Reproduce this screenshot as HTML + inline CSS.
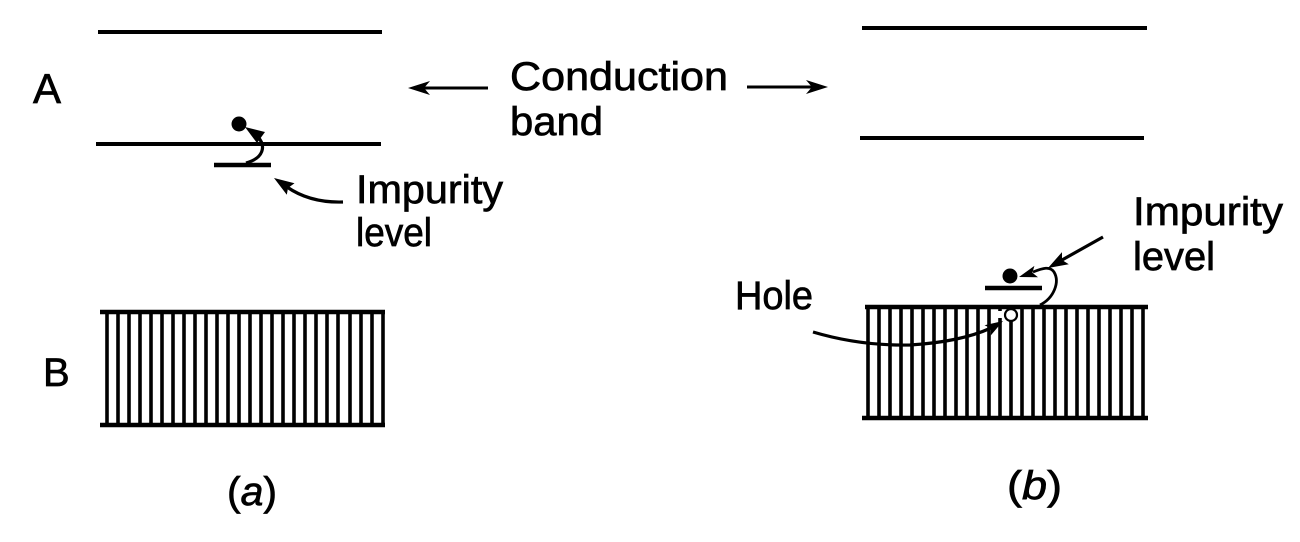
<!DOCTYPE html>
<html><head><meta charset="utf-8"><style>
html,body{margin:0;padding:0;background:#fff;}
svg{display:block;}
text{font-family:"Liberation Sans",Arial,sans-serif;fill:#000;stroke:#000;stroke-width:0.7;}
</style></head><body>
<svg width="1300" height="542" viewBox="0 0 1300 542" xmlns="http://www.w3.org/2000/svg">
<rect width="1300" height="542" fill="#fff"/>
<g stroke="#000" stroke-linecap="butt" fill="none">
<line x1="98" y1="32" x2="382" y2="32" stroke-width="4"/>
<line x1="96" y1="144" x2="381" y2="144" stroke-width="4"/>
<line x1="862" y1="28" x2="1147" y2="28" stroke-width="4"/>
<line x1="860" y1="138" x2="1144" y2="138" stroke-width="4"/>
<line x1="214" y1="165" x2="271" y2="165" stroke-width="4.5"/>
<line x1="985" y1="288" x2="1042" y2="288" stroke-width="4.5"/>
<line x1="100" y1="312" x2="385" y2="312" stroke-width="4.5"/>
<line x1="100" y1="425" x2="385" y2="425" stroke-width="4.5"/>
<line x1="865" y1="307" x2="1148" y2="307" stroke-width="4.5"/>
<line x1="862" y1="418" x2="1148" y2="418" stroke-width="4.5"/>
</g>
<g stroke="#000" stroke-width="3.6">
<line x1="107" y1="312" x2="107" y2="425"/><line x1="118" y1="312" x2="118" y2="425"/><line x1="129" y1="312" x2="129" y2="425"/><line x1="140" y1="312" x2="140" y2="425"/><line x1="151" y1="312" x2="151" y2="425"/><line x1="162" y1="312" x2="162" y2="425"/><line x1="173" y1="312" x2="173" y2="425"/><line x1="184" y1="312" x2="184" y2="425"/><line x1="195" y1="312" x2="195" y2="425"/><line x1="206" y1="312" x2="206" y2="425"/><line x1="217" y1="312" x2="217" y2="425"/><line x1="228" y1="312" x2="228" y2="425"/><line x1="239" y1="312" x2="239" y2="425"/><line x1="250" y1="312" x2="250" y2="425"/><line x1="261" y1="312" x2="261" y2="425"/><line x1="272" y1="312" x2="272" y2="425"/><line x1="283" y1="312" x2="283" y2="425"/><line x1="294" y1="312" x2="294" y2="425"/><line x1="305" y1="312" x2="305" y2="425"/><line x1="316" y1="312" x2="316" y2="425"/><line x1="327" y1="312" x2="327" y2="425"/><line x1="338" y1="312" x2="338" y2="425"/><line x1="350" y1="312" x2="350" y2="425"/><line x1="361" y1="312" x2="361" y2="425"/><line x1="372" y1="312" x2="372" y2="425"/><line x1="383" y1="312" x2="383" y2="425"/>
<line x1="868" y1="307" x2="868" y2="418"/><line x1="879" y1="307" x2="879" y2="418"/><line x1="890" y1="307" x2="890" y2="418"/><line x1="901" y1="307" x2="901" y2="418"/><line x1="912" y1="307" x2="912" y2="418"/><line x1="923" y1="307" x2="923" y2="418"/><line x1="934" y1="307" x2="934" y2="418"/><line x1="945" y1="307" x2="945" y2="418"/><line x1="956" y1="307" x2="956" y2="418"/><line x1="967" y1="307" x2="967" y2="418"/><line x1="978" y1="307" x2="978" y2="418"/><line x1="989" y1="307" x2="989" y2="418"/><line x1="1000" y1="307" x2="1000" y2="418"/><line x1="1011" y1="307" x2="1011" y2="418"/><line x1="1022" y1="307" x2="1022" y2="418"/><line x1="1033" y1="307" x2="1033" y2="418"/><line x1="1044" y1="307" x2="1044" y2="418"/><line x1="1055" y1="307" x2="1055" y2="418"/><line x1="1066" y1="307" x2="1066" y2="418"/><line x1="1077" y1="307" x2="1077" y2="418"/><line x1="1088" y1="307" x2="1088" y2="418"/><line x1="1099" y1="307" x2="1099" y2="418"/><line x1="1110" y1="307" x2="1110" y2="418"/><line x1="1121" y1="307" x2="1121" y2="418"/><line x1="1132" y1="307" x2="1132" y2="418"/><line x1="1143" y1="307" x2="1143" y2="418"/>
</g>
<rect x="996" y="311" width="6" height="7" fill="#fff"/>
<circle cx="1011" cy="315" r="6" fill="#fff" stroke="#000" stroke-width="2.2"/>

<line x1="488" y1="88" x2="424" y2="88" stroke="#000" stroke-width="3"/>
<polygon points="408,88 430,81 424,88 430,95" fill="#000"/>
<line x1="747" y1="87" x2="812" y2="87" stroke="#000" stroke-width="3"/>
<polygon points="828,87 806,80 812,87 806,94" fill="#000"/>

<circle cx="239" cy="124" r="7.5" fill="#000"/>
<path d="M258 137 C266 146 264 158 246 163" stroke="#000" stroke-width="3.2" fill="none"/>
<polygon points="245,127 265,132 257,143" fill="#000"/>
<path d="M343 202 Q310 203 287 187" stroke="#000" stroke-width="3.2" fill="none"/>
<polygon points="274,178 294.5,183.2 288,188 286.8,194.8" fill="#000"/>

<circle cx="1010" cy="276" r="7.5" fill="#000"/>
<path d="M1040 305 C1054 298 1060 282 1054 272 C1050 266 1043 268 1033 272" stroke="#000" stroke-width="2.8" fill="none"/>
<polygon points="1019,277 1038,277.3 1032.4,272.8 1034.4,265.9" fill="#000"/>
<line x1="1103" y1="237" x2="1062" y2="260" stroke="#000" stroke-width="3.2"/>
<polygon points="1048,268 1068.8,264.3 1062,260 1062,252.1" fill="#000"/>
<path d="M813 332 Q860 346 910 345 Q960 342 991 328" stroke="#000" stroke-width="3.2" fill="none"/>
<polygon points="1003,321 990.7,335.5 991,328.3 984.5,325.3" fill="#000"/>

<text x="33" y="103" font-size="42">A</text>
<text x="43" y="386" font-size="40">B</text>
<text x="510" y="90" font-size="40" textLength="218" lengthAdjust="spacingAndGlyphs">Conduction</text>
<text x="510" y="135" font-size="40" textLength="93" lengthAdjust="spacingAndGlyphs">band</text>
<text x="356" y="203" font-size="40" textLength="147" lengthAdjust="spacingAndGlyphs">Impurity</text>
<text x="356" y="246" font-size="40" textLength="76" lengthAdjust="spacingAndGlyphs">level</text>
<text x="1133" y="225" font-size="40" textLength="150" lengthAdjust="spacingAndGlyphs">Impurity</text>
<text x="1133" y="270" font-size="40" textLength="82" lengthAdjust="spacingAndGlyphs">level</text>
<text x="735" y="309" font-size="40" textLength="78" lengthAdjust="spacingAndGlyphs">Hole</text>
<text x="227" y="505" font-size="40" textLength="50" lengthAdjust="spacingAndGlyphs">(<tspan font-style="italic">a</tspan>)</text>
<text x="1007" y="499" font-size="40" textLength="55" lengthAdjust="spacingAndGlyphs">(<tspan font-style="italic">b</tspan>)</text>
</svg>
</body></html>
